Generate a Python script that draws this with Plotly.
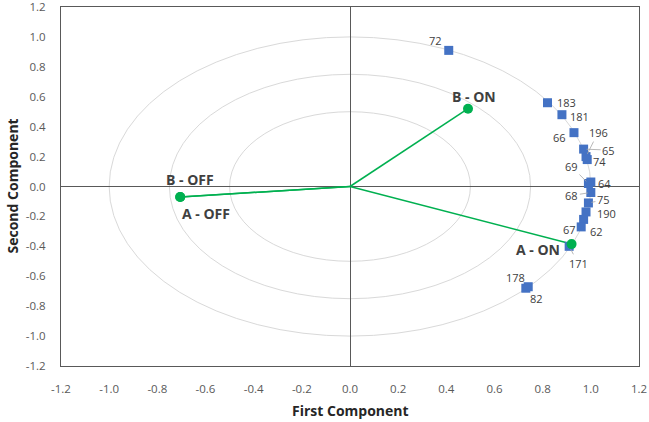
import plotly.graph_objects as go

# ---- data ----
var_ids = ["72", "183", "181", "66", "196", "65", "74", "69", "64", "68",
           "75", "190", "62", "67", "171", "178", "82"]
var_x = [0.41, 0.82, 0.88, 0.93, 0.98, 0.97, 0.985, 0.99, 1.00, 1.00,
         0.99, 0.98, 0.97, 0.96, 0.91, 0.73, 0.74]
var_y = [0.91, 0.56, 0.48, 0.36, 0.20, 0.25, 0.18, 0.02, 0.03, -0.04,
         -0.11, -0.17, -0.22, -0.27, -0.40, -0.68, -0.67]

obs_names = ["B - ON", "B - OFF", "A - OFF", "A - ON"]
obs_x = [0.49, -0.705, -0.705, 0.92]
obs_y = [0.52, -0.07, -0.07, -0.385]

circle_radii = [0.5, 0.75, 1.0]
tick_vals = [-1.2, -1.0, -0.8, -0.6, -0.4, -0.2, 0.0, 0.2, 0.4, 0.6, 0.8, 1.0, 1.2]
tick_text = ["-1.2", "-1.0", "-0.8", "-0.6", "-0.4", "-0.2", "0.0",
             "0.2", "0.4", "0.6", "0.8", "1.0", "1.2"]

# ---- label styling (pixel offsets: dx right, dy down) ----
var_label_off = {
    "72": (-13, -10, False), "183": (19, 0, False), "181": (18, 2, False),
    "66": (-14, 5, False), "196": (12, -24, True), "65": (25, 1, True),
    "74": (12, 2, False), "69": (-17, -17, True), "64": (14, 1, False),
    "68": (-19, 3, True), "75": (15, -3, True), "190": (20, 2, False),
    "62": (13, 12, False), "67": (-12, 3, False), "171": (9, 17, True),
    "178": (-10, -11, False), "82": (8, 12, False),
}
obs_label_off = [(6, -12), (10, -17), (26, 17), (-34, 5)]

GREEN = "#00B050"
BLUE = "#4472C4"
TXT = "#404040"
FONT = "Open Sans"

fig = go.Figure()

# vectors from origin
for nx, ny in zip(obs_x, obs_y):
    fig.add_trace(go.Scatter(x=[0, nx], y=[0, ny], mode="lines",
                             line=dict(color=GREEN, width=1.5),
                             hoverinfo="skip", showlegend=False))

fig.add_trace(go.Scatter(x=var_x, y=var_y, mode="markers",
                         marker=dict(symbol="square", size=9, color=BLUE),
                         text=var_ids, showlegend=False))
fig.add_trace(go.Scatter(x=obs_x, y=obs_y, mode="markers",
                         marker=dict(symbol="circle", size=10, color=GREEN),
                         text=obs_names, showlegend=False))

for r in circle_radii:
    fig.add_shape(type="circle", xref="x", yref="y", x0=-r, y0=-r, x1=r, y1=r,
                  line=dict(color="#D9D9D9", width=1), layer="below")

annotations = []
for vid, vx, vy in zip(var_ids, var_x, var_y):
    dx, dy, leader = var_label_off[vid]
    if leader:
        annotations.append(dict(x=vx, y=vy, xref="x", yref="y", text=vid,
                                showarrow=True, arrowhead=0, arrowwidth=0.8,
                                arrowcolor="#A6A6A6", ax=dx, ay=dy, standoff=3,
                                font=dict(family=FONT, size=11, color=TXT)))
    else:
        annotations.append(dict(x=vx, y=vy, xref="x", yref="y", text=vid,
                                showarrow=False, xshift=dx, yshift=-dy,
                                font=dict(family=FONT, size=11, color=TXT)))
for name, ox, oy, (dx, dy) in zip(obs_names, obs_x, obs_y, obs_label_off):
    annotations.append(dict(x=ox, y=oy, xref="x", yref="y", text="<b>%s</b>" % name,
                            showarrow=False, xshift=dx, yshift=-dy,
                            font=dict(family=FONT, size=14, color=TXT)))

# axis titles
annotations.append(dict(x=0.5, y=0, xref="paper", yref="paper",
                        xanchor="center", yanchor="middle",
                        text="<b>First Component</b>", showarrow=False,
                        yshift=-44, font=dict(family=FONT, size=14, color="#262626")))
annotations.append(dict(x=0, y=0.5, xref="paper", yref="paper",
                        xanchor="center", yanchor="middle",
                        text="<b>Second Component</b>", showarrow=False,
                        textangle=-90, xshift=-49,
                        font=dict(family=FONT, size=14, color="#262626")))

axis_common = dict(range=[-1.2, 1.2], tickvals=tick_vals, ticktext=tick_text,
                   showgrid=False, zeroline=True, zerolinecolor="#595959",
                   zerolinewidth=1, showline=True, linecolor="#595959",
                   linewidth=1, mirror=True, ticks="", automargin=False,
                   ticklabeloverflow="allow",
                   tickfont=dict(family=FONT, size=11.5, color="#595959"))

fig.update_layout(
    width=649, height=422,
    margin=dict(l=61, r=10, t=7, b=56),
    paper_bgcolor="white", plot_bgcolor="white",
    xaxis=dict(**axis_common, ticklabelstandoff=12),
    yaxis=dict(**axis_common, ticklabelstandoff=12),
    annotations=annotations,
    showlegend=False,
)

fig.write_html("out.html", config={"displayModeBar": False},
               post_script="document.body.style.margin='0';document.body.style.overflow='hidden';")
